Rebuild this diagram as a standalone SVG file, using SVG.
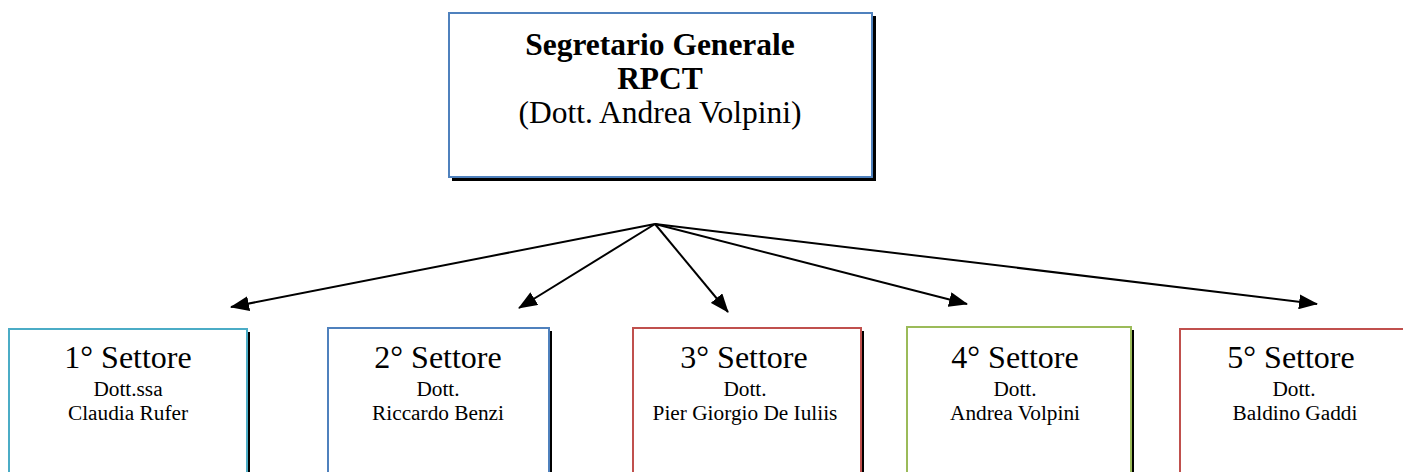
<svg xmlns="http://www.w3.org/2000/svg" width="1403" height="472" viewBox="0 0 1403 472">
<style>
.t{font-family:"Liberation Serif","Times New Roman",serif;text-anchor:middle;fill:#000}
.big{font-size:32px}
.tt{font-size:31.5px}
.b{font-weight:bold}
.sm{font-size:21.3px}
.box{fill:#fff;stroke-width:2}
.sh{fill:#000}
.con line{stroke:#000;stroke-width:2;fill:none}
</style>
<defs>
<marker id="ah" markerWidth="19" markerHeight="15" refX="18" refY="7.5" orient="auto" markerUnits="userSpaceOnUse">
<path d="M0,0 L19,7.5 L0,15 Z" fill="#000"/>
</marker>
</defs>
<rect width="1403" height="472" fill="#fff"/>
<g id="n0">
<rect class="sh" x="452" y="16" width="424" height="165"/>
<rect class="box" x="449" y="13" width="423" height="164" stroke="#4f81bd"/>
<text class="t tt b" x="660" y="55">Segretario Generale</text>
<text class="t tt b" x="660" y="89">RPCT</text>
<text class="t tt" x="660" y="123">(Dott. Andrea Volpini)</text>
</g>
<g id="n1">
<rect class="sh" x="12" y="332" width="238" height="200"/>
<rect class="box" x="9" y="329" width="238" height="200" stroke="#4bacc6"/>
<text class="t big" x="128" y="368">1° Settore</text>
<text class="t sm" x="128" y="396">Dott.ssa</text>
<text class="t sm" x="128" y="420">Claudia Rufer</text>
</g>
<g id="n2">
<rect class="sh" x="331" y="331" width="221" height="200"/>
<rect class="box" x="328" y="328" width="221" height="200" stroke="#4f81bd"/>
<text class="t big" x="438" y="368">2° Settore</text>
<text class="t sm" x="438" y="396">Dott.</text>
<text class="t sm" x="438" y="420">Riccardo Benzi</text>
</g>
<g id="n3">
<rect class="sh" x="636" y="331" width="228" height="200"/>
<rect class="box" x="633" y="328" width="228" height="200" stroke="#c0504d"/>
<text class="t big" x="744" y="368">3° Settore</text>
<text class="t sm" x="745" y="396">Dott.</text>
<text class="t sm" x="745" y="420">Pier Giorgio De Iuliis</text>
</g>
<g id="n4">
<rect class="sh" x="910" y="330" width="224" height="200"/>
<rect class="box" x="907" y="327" width="224" height="200" stroke="#9bbb59"/>
<text class="t big" x="1015" y="368">4° Settore</text>
<text class="t sm" x="1015" y="396">Dott.</text>
<text class="t sm" x="1015" y="420">Andrea Volpini</text>
</g>
<g id="n5">
<rect class="box" x="1180" y="329" width="240" height="200" stroke="#c0504d"/>
<text class="t big" x="1291" y="368">5° Settore</text>
<text class="t sm" x="1294" y="396">Dott.</text>
<text class="t sm" x="1295" y="420">Baldino Gaddi</text>
</g>
<g id="connectors" class="con">
<line x1="655" y1="224" x2="231" y2="307" marker-end="url(#ah)"/>
<line x1="655" y1="224" x2="519" y2="308" marker-end="url(#ah)"/>
<line x1="655" y1="224" x2="728" y2="312" marker-end="url(#ah)"/>
<line x1="655" y1="224" x2="967" y2="304" marker-end="url(#ah)"/>
<line x1="655" y1="224" x2="1317" y2="304" marker-end="url(#ah)"/>
</g>
</svg>
